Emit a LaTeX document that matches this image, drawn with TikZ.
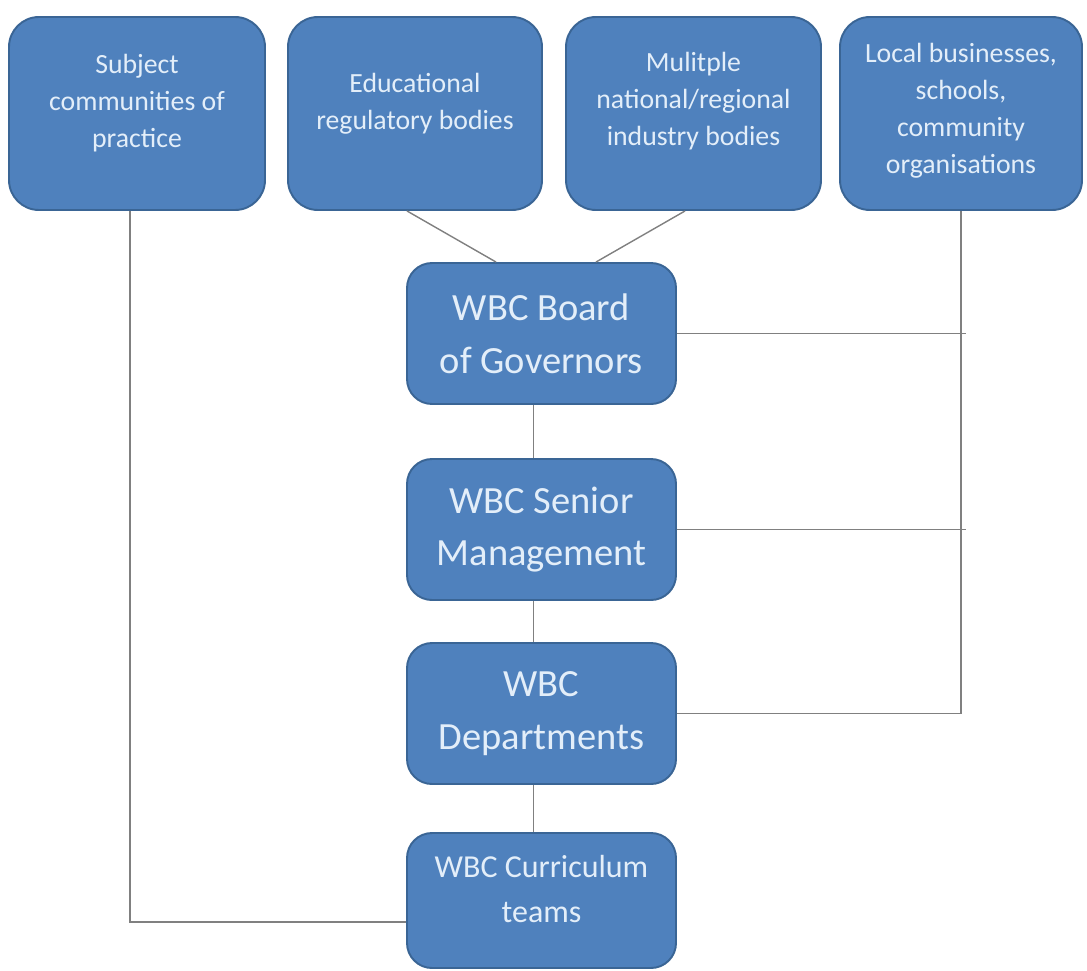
\documentclass[tikz,border=0pt]{standalone}
\usepackage{fontspec}
\setmainfont{Carlito}
\definecolor{boxfill}{HTML}{4F81BD}
\definecolor{boxline}{HTML}{3A6595}
\definecolor{boxtext}{HTML}{E3EEF9}
\definecolor{wiregray}{HTML}{808080}
\begin{document}
\begin{tikzpicture}[
    orgbox/.style={draw=boxline, fill=boxfill, line width=1.1pt, text=boxtext, align=center, inner sep=0pt},
    topbox/.style={orgbox, rounded corners=0.6cm, minimum height=3.86cm, text depth=0.5cm, font=\fontsize{15.8}{21}\selectfont},
    midbox/.style={orgbox, rounded corners=0.5cm, minimum width=5.38cm, minimum height=2.82cm, font=\fontsize{21.9}{30}\selectfont},
    wire/.style={draw=wiregray, line width=0.8pt}
  ]
  \useasboundingbox (0, 0) rectangle (21.74, -19.40);

  \node[topbox, minimum width=5.12cm] (subj) at (2.74, -2.27) {Subject\\communities of\\practice};
  \node[topbox, minimum width=5.08cm] (edu) at (8.30, -2.27) {Educational\\regulatory bodies};
  \node[topbox, minimum width=5.10cm, text depth=0.57cm] (ind) at (13.87, -2.27) {Mulitple\\national/regional\\industry bodies};
  \node[topbox, minimum width=4.84cm, text depth=0.2cm] (local) at (19.22, -2.27) {Local businesses,\\schools,\\community\\organisations};

  \node[midbox] (board) at (10.83, -6.67) {WBC Board\\of Governors};
  \node[midbox] (senior) at (10.83, -10.59) {WBC Senior\\Management};
  \node[midbox] (dept) at (10.83, -14.27) {WBC\\Departments};
  \node[midbox, minimum height=2.70cm, text depth=0.45cm, font=\fontsize{18.2}{25.6}\selectfont] (curric) at (10.83, -18.01) {WBC Curriculum\\teams};

  \draw[wire] ([xshift=-0.14cm]subj.south) |- ([yshift=-0.43cm]curric.west);
  \draw[wire] ([xshift=-0.16cm]edu.south) -- ([xshift=-0.91cm]board.north);
  \draw[wire] ([xshift=-0.17cm]ind.south) -- ([xshift=1.09cm]board.north);
  \draw[wire] (local.south) |- (dept.east);
  \draw[wire] (board.east) -- ([xshift=0.1cm]local.south |- board.east);
  \draw[wire] (senior.east) -- ([xshift=0.1cm]local.south |- senior.east);
  \foreach \a/\b in {board/senior, senior/dept, dept/curric}
    \draw[wire] ([xshift=-0.16cm]\a.south) -- ([xshift=-0.16cm]\b.north);
\end{tikzpicture}
\end{document}
